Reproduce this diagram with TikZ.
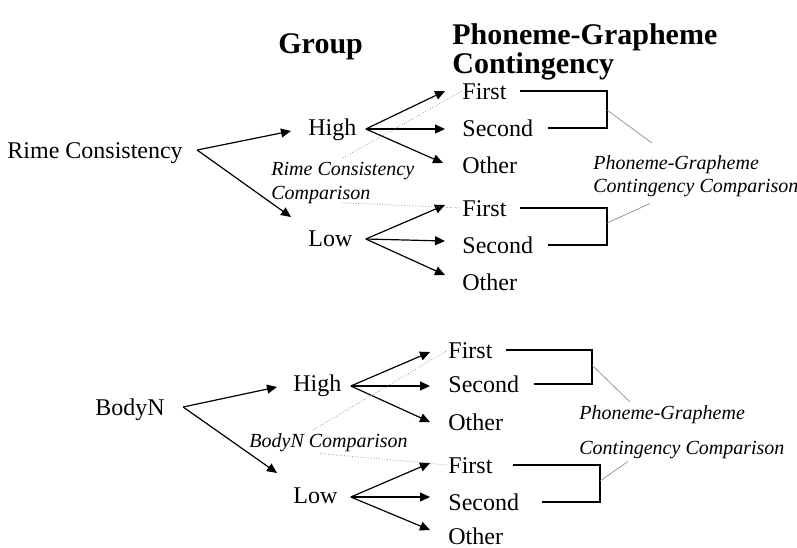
\documentclass[tikz,border=0pt]{standalone}
\usepackage{fontspec}
\setmainfont{Liberation Serif}
\usepackage{tikz}
\usetikzlibrary{arrows.meta,positioning,calc}

\begin{document}
\begin{tikzpicture}[x=0.5pt, y=-0.5pt,
    lbl/.style={inner sep=0pt, anchor=west, font=\fontsize{12}{14}\selectfont, text height=9.5pt, text depth=1.5pt},
    head/.style={inner sep=0pt, anchor=north west, align=left, font=\bfseries\fontsize{15}{13.5}\selectfont},
    note/.style={inner sep=0pt, anchor=north west, align=left, font=\itshape\fontsize{10}{12}\selectfont},
    arr/.style={-{Triangle[length=5pt,width=4.5pt]}, line width=0.6pt},
    brk/.style={line width=0.7pt},
    lead/.style={gray, line width=0.3pt},
    leaddot/.style={gray, line width=0.35pt, densely dotted}]
    \useasboundingbox (0,0) rectangle (797,547);

    % Headings
    \node (group) [head] at (278,33) {Group};
    \node (pghead) [head] at (452,23) {Phoneme-Grapheme\\Contingency};

    % Rime Consistency
    \node (rime) [lbl] at (7,150) {Rime Consistency};
    \node (hiA) [lbl] at (308,127) {High};
    \node (loA) [lbl] at (308,238) {Low};
    \node (f1) [lbl] at (462,91) {First};
    \node (s1) [lbl] at (462,128) {Second};
    \node (o1) [lbl] at (462,165) {Other};
    \node (f2) [lbl] at (462,208) {First};
    \node (s2) [lbl] at (462,245) {Second};
    \node (o2) [lbl] at (462,282) {Other};
    \node (rcc) [note] at (271,161.5) {Rime Consistency\\Comparison};
    \node (pgc1) [note, font=\itshape\fontsize{10}{11.5}\selectfont] at (593,155.5) {Phoneme-Grapheme\\Contingency Comparison};
    \coordinate (brA) at (607,110);
    \coordinate (brB) at (607,223);

    \draw [arr] ([xshift=7pt]rime.east) -- ([xshift=-8.5pt,yshift=-2pt]hiA.west);
    \draw [arr] ([xshift=7pt]rime.east) -- ([xshift=-8.5pt,yshift=10.5pt]loA.west);
    \draw [arr] ([xshift=4.5pt,yshift=-1pt]hiA.east) -- ([xshift=-8.5pt]f1.west);
    \draw [arr] ([xshift=4.5pt,yshift=-1pt]hiA.east) -- ([xshift=-8.5pt,yshift=-0.5pt]s1.west);
    \draw [arr] ([xshift=4.5pt,yshift=-1pt]hiA.east) -- ([xshift=-9.5pt,yshift=1pt]o1.west);
    \draw [arr] ([xshift=6.5pt,yshift=-0.5pt]loA.east) -- ([xshift=-8.5pt,yshift=1.5pt]f2.west);
    \draw [arr] ([xshift=6.5pt,yshift=-0.5pt]loA.east) -- ([xshift=-8.5pt,yshift=2pt]s2.west);
    \draw [arr] ([xshift=6.5pt,yshift=-0.5pt]loA.east) -- ([xshift=-8.5pt,yshift=3.5pt]o2.west);
    \draw [brk] ([xshift=6.5pt]f1.east) -| (brA) |- ([xshift=7.5pt]s1.east);
    \draw [brk] ([xshift=6.5pt]f2.east) -| (brB) |- ([xshift=7.5pt]s2.east);
    \draw [leaddot] ([xshift=36pt,yshift=1.75pt]rcc.north west) -- (f1.west);
    \draw [leaddot] ([xshift=35.5pt,yshift=0.5pt]rcc.south west) -- (f2.west);
    \draw [lead] (brA) -- ([xshift=29.5pt,yshift=6.25pt]pgc1.north west);
    \draw [lead] (brB) -- ([xshift=28.5pt,yshift=-3pt]pgc1.south west);

    % BodyN
    \node (bodyN) [lbl] at (95,407) {BodyN};
    \node (hiB) [lbl] at (293,383) {High};
    \node (loB) [lbl] at (293,495) {Low};
    \node (f3) [lbl] at (448,350) {First};
    \node (s3) [lbl] at (448,384) {Second};
    \node (o3) [lbl] at (448,422) {Other};
    \node (f4) [lbl] at (448,465) {First};
    \node (s4) [lbl] at (448,502) {Second};
    \node (o4) [lbl] at (448,536) {Other};
    \node (bnc) [note] at (249,433.5) {BodyN Comparison};
    \node (pgc2) [note, font=\itshape\fontsize{10}{17.5}\selectfont] at (579,405.5) {Phoneme-Grapheme\\Contingency Comparison};
    \coordinate (brC) at (592,365);
    \coordinate (brD) at (600,481);

    \draw [arr] ([xshift=9pt]bodyN.east) -- ([xshift=-8pt,yshift=-2pt]hiB.west);
    \draw [arr] ([xshift=9pt]bodyN.east) -- ([xshift=-8pt,yshift=11pt]loB.west);
    \draw [arr] ([xshift=4.5pt,yshift=-1.5pt]hiB.east) -- ([xshift=-9pt,yshift=-1pt]f3.west);
    \draw [arr] ([xshift=4.5pt,yshift=-1.5pt]hiB.east) -- ([xshift=-9pt,yshift=-1pt]s3.west);
    \draw [arr] ([xshift=4.5pt,yshift=-1.5pt]hiB.east) -- ([xshift=-9pt]o3.west);
    \draw [arr] ([xshift=6.5pt,yshift=-1pt]loB.east) -- ([xshift=-9pt,yshift=1pt]f4.west);
    \draw [arr] ([xshift=6.5pt,yshift=-1pt]loB.east) -- ([xshift=-9pt,yshift=2.5pt]s4.west);
    \draw [arr] ([xshift=6.5pt,yshift=-1pt]loB.east) -- ([xshift=-9pt,yshift=3pt]o4.west);
    \draw [brk] ([xshift=6.5pt]f3.east) -| (brC) |- ([xshift=7.2pt]s3.east);
    \draw [brk] ([xshift=10pt]f4.east) -| (brD) |- ([xshift=11.2pt]s4.east);
    \draw [leaddot] ([xshift=32pt,yshift=1.75pt]bnc.north west) -- (f3.west);
    \draw [leaddot] ([xshift=35.5pt,yshift=-0.5pt]bnc.south west) -- (f4.west);
    \draw [lead] (brC) -- ([xshift=25.5pt,yshift=1.75pt]pgc2.north west);
    \draw [lead] (brD) -- ([xshift=24.5pt,yshift=-1pt]pgc2.south west);
\end{tikzpicture}
\end{document}
